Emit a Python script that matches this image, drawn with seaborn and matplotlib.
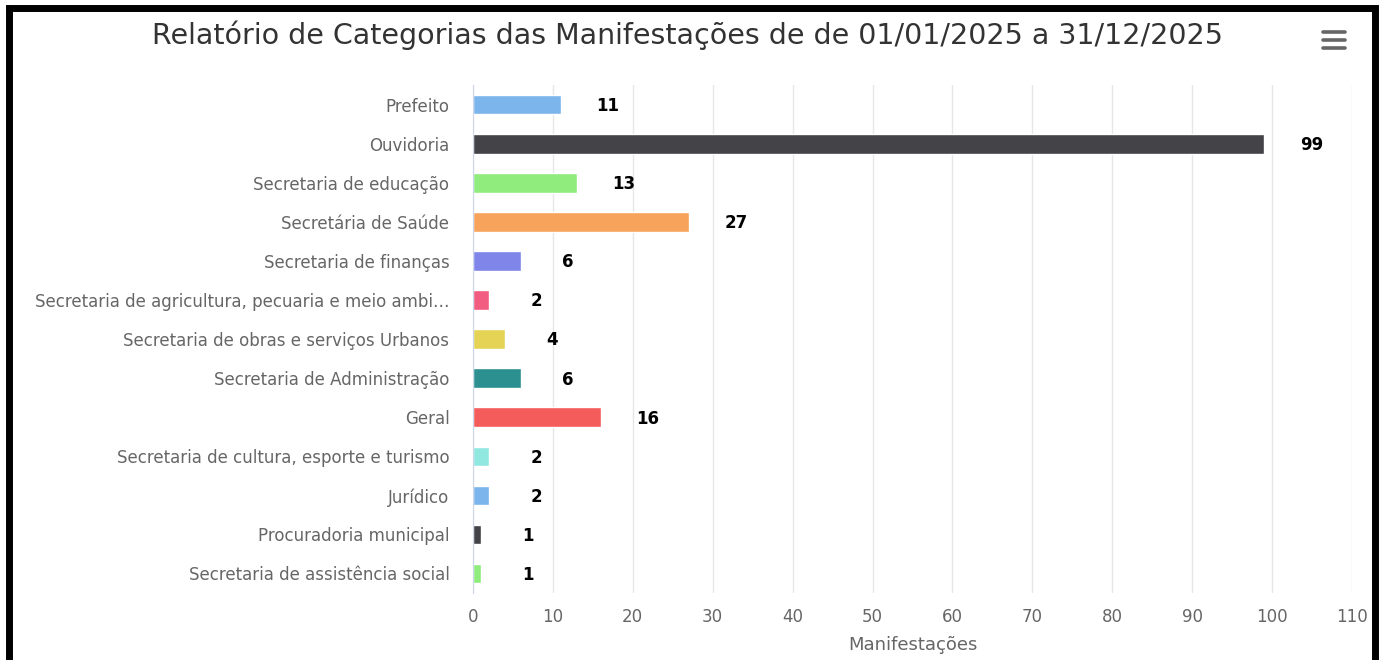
import matplotlib
matplotlib.use('Agg')
import matplotlib.pyplot as plt
import seaborn as sns
from matplotlib.patches import Rectangle
from matplotlib.lines import Line2D

# Dados do relatório
categorias = ['Prefeito', 'Ouvidoria', 'Secretaria de educação', 'Secretária de Saúde',
              'Secretaria de finanças', 'Secretaria de agricultura, pecuaria e meio ambi…',
              'Secretaria de obras e serviços Urbanos', 'Secretaria de Administração',
              'Geral', 'Secretaria de cultura, esporte e turismo', 'Jurídico',
              'Procuradoria municipal', 'Secretaria de assistência social']
valores = [11, 99, 13, 27, 6, 2, 4, 6, 16, 2, 2, 1, 1]
cores = ['#7cb5ec', '#434348', '#90ed7d', '#f7a35c', '#8085e9', '#f15c80', '#e4d354',
         '#2b908f', '#f45b5b', '#91e8e1', '#7cb5ec', '#434348', '#90ed7d']
ticks_x = list(range(0, 111, 10))

sns.set_style('white')
plt.rcParams['font.family'] = ['DejaVu Sans']

fig = plt.figure(figsize=(13.81, 6.60), dpi=100)
ax = fig.add_axes([0.3425, 0.1015, 0.979 - 0.3425, 0.871 - 0.1015])

sns.barplot(x=valores, y=categorias, hue=categorias, palette=cores, legend=False,
            orient='h', width=0.5, ax=ax, saturation=1)

# Rótulos dos valores
for i, v in enumerate(valores):
    ax.annotate(str(v), xy=(v, i), xytext=(34, -1), textcoords='offset points',
                ha='center', va='center', fontsize=12, fontweight='bold', color='black')

ax.set_xlim(0, 110)
ax.set_ylim(len(categorias) - 0.5, -0.5)
ax.set_xticks(ticks_x)
ax.grid(axis='x', color='#e6e6e6', linewidth=1)
ax.set_axisbelow(True)
for s in ['top', 'right', 'bottom']:
    ax.spines[s].set_visible(False)
ax.spines['left'].set_color('#ccd6eb')
ax.tick_params(axis='both', length=0, colors='#666666')
ax.tick_params(axis='y', pad=17, labelsize=12)
ax.tick_params(axis='x', pad=11, labelsize=12)
ax.set_xlabel('Manifestações', color='#666666', fontsize=13, labelpad=7)
ax.set_ylabel('')

fig.text(0.498, 0.947, 'Relatório de Categorias das Manifestações de de 01/01/2025 a 31/12/2025',
         ha='center', va='center', fontsize=20.5, color='#333333')

# Ícone de menu
for yy in [0.928, 0.94, 0.952]:
    fig.add_artist(Line2D([0.958, 0.974], [yy, yy], color='#666666', linewidth=2.6,
                          solid_capstyle='round'))

# Moldura preta
fig.add_artist(Rectangle((8.5 / 1381, -0.01), (1375 - 8.5) / 1381, 1 - 8 / 660 + 0.01,
                         transform=fig.transFigure, fill=False, edgecolor='black',
                         linewidth=5))

fig.savefig('out.png', dpi=100)
